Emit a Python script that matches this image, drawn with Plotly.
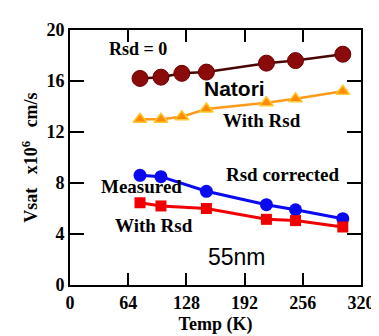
import plotly.graph_objects as go

temp_top = [77, 100, 123, 150, 216, 248, 300]
rsd0 = [16.2, 16.3, 16.6, 16.7, 17.4, 17.6, 18.1]
natori_rsd = [13.0, 13.0, 13.2, 13.8, 14.3, 14.6, 15.2]

temp_bot = [77, 100, 150, 216, 248, 300]
rsd_corrected = [8.6, 8.5, 7.35, 6.3, 5.9, 5.2]
measured_rsd = [6.45, 6.2, 6.0, 5.15, 5.05, 4.55]

x_ticks = [0, 64, 128, 192, 256, 320]
y_ticks = [0, 4, 8, 12, 16, 20]

SERIF = "Liberation Serif"
SANS = "Liberation Sans"

fig = go.Figure()
fig.add_trace(go.Scatter(x=temp_top, y=rsd0, mode="lines+markers",
                         line=dict(color="#4a0505", width=2.5),
                         marker=dict(symbol="circle", size=16, color="#8b0a0a",
                                     line=dict(color="#6a0000", width=1))))
fig.add_trace(go.Scatter(x=temp_top, y=natori_rsd, mode="lines+markers",
                         line=dict(color="#ff9a1a", width=2.5),
                         marker=dict(symbol="triangle-up", size=12, color="#ff8c00",
                                     line=dict(color="#ffc830", width=1.5))))
fig.add_trace(go.Scatter(x=temp_bot, y=rsd_corrected, mode="lines+markers",
                         line=dict(color="#0a0af0", width=3),
                         marker=dict(symbol="circle", size=13, color="#0a0af0")))
fig.add_trace(go.Scatter(x=temp_bot, y=measured_rsd, mode="lines+markers",
                         line=dict(color="#f00000", width=3),
                         marker=dict(symbol="square", size=11, color="#f00000")))

def ann(text, x, y, family=SERIF, size=18, bold=True):
    fig.add_annotation(x=x, y=y, xref="x", yref="y", text=(f"<b>{text}</b>" if bold else text),
                       showarrow=False, font=dict(family=family, size=size, color="black"))

ann("Rsd = 0", 75, 18.5, size=18)
ann("Natori", 181, 15.4, family=SANS, size=21)
ann("With Rsd", 211, 12.9, size=19)
ann("Rsd corrected", 234, 8.65, size=19)
ann("Measured", 79, 7.7, size=19)
ann("With Rsd", 92, 4.7, size=19)
ann("55nm", 184, 2.2, family=SANS, size=23, bold=False)

axis_common = dict(showline=True, linecolor="black", linewidth=2, mirror="ticks",
                   ticks="inside", tickcolor="black", tickwidth=2, showgrid=False,
                   zeroline=False,
                   tickfont=dict(family=SERIF, size=18, color="black", weight="bold"))

fig.update_xaxes(range=[0, 320], tickvals=x_ticks, ticktext=[str(v) for v in x_ticks],
                 ticklen=12,
                 title=dict(text="<b>Temp (K)</b>", font=dict(family=SERIF, size=18, color="black"),
                            standoff=6),
                 **axis_common)
fig.update_yaxes(range=[0, 20], tickvals=y_ticks, ticktext=[str(v) for v in y_ticks],
                 ticklen=14,
                 title=dict(text="<b>Vsat   x10<sup>6</sup>   cm/s</b>",
                            font=dict(family=SERIF, size=18, color="black"), standoff=4),
                 **axis_common)

fig.update_layout(width=379, height=336, margin=dict(l=62, r=13, t=13, b=59),
                  showlegend=False, plot_bgcolor="white", paper_bgcolor="white")

fig.write_html("out.html")
